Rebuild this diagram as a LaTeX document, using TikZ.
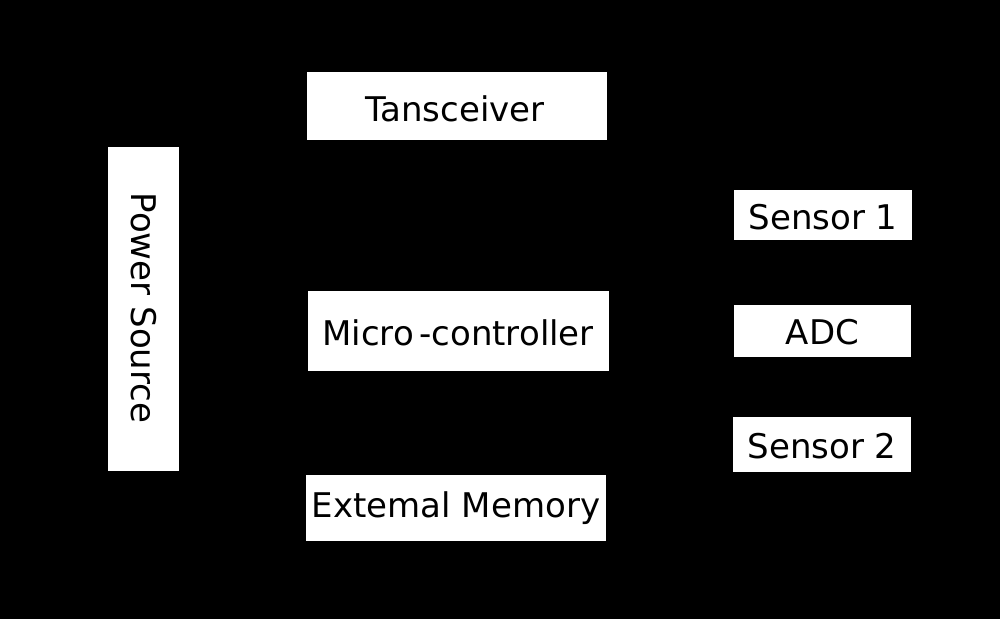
\documentclass[tikz,border=0pt]{standalone}
\usepackage{fontspec}
\setmainfont{DejaVu Sans}
\begin{document}
\begin{tikzpicture}[x=1pt,y=-1pt,
  blk/.style={draw=none,fill=white,inner sep=0pt},
  lbl/.style={text=black,inner sep=0pt,font=\fontsize{34}{38}\selectfont}]
\useasboundingbox (0,0) rectangle (1000,619);
\fill[black] (0,0) rectangle (1000,619);
\node[blk,minimum width=300pt,minimum height=68pt] (trx) at (457,106) {};
\node[lbl,yshift=-3pt,xshift=-2pt] (trxt) at (trx.center) {Tansceiver};
\node[blk,minimum width=301pt,minimum height=80pt] (mcu) at (458,331) {};
\node[lbl,yshift=-2pt] (mcut) at (mcu.center) {Micro\kern0.16em-controller};
\node[blk,minimum width=300pt,minimum height=66pt] (mem) at (456,507.5) {};
\node[lbl,yshift=-1pt] (memt) at (mem.center) {Extemal Memory};
\node[blk,minimum width=71pt,minimum height=324pt] (pwr) at (143.5,309) {};
\node[lbl,rotate=-90,xshift=-1pt] (pwrt) at (pwr.center) {Power Source};
\node[blk,minimum width=178pt,minimum height=50pt] (s1) at (823,215) {};
\node[lbl,yshift=-2pt] (s1t) at (s1.center) {Sensor 1};
\node[blk,minimum width=177pt,minimum height=52pt] (adc) at (822.5,330.5) {};
\node[lbl,yshift=-2pt] (adct) at (adc.center) {ADC};
\node[blk,minimum width=178pt,minimum height=55pt] (s2) at (822,444.5) {};
\node[lbl,yshift=-2pt] (s2t) at (s2.center) {Sensor 2};
\end{tikzpicture}
\end{document}
